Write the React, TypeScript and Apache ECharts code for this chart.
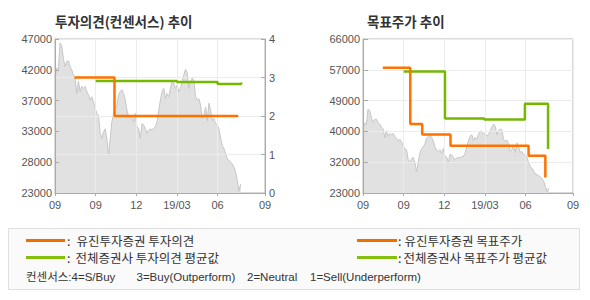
import React, { useEffect, useRef } from "react";
import * as echarts from "echarts";

// x axis in months since the first tick
const xTickMonths = [0, 3, 6, 9, 12, 15.5];
const xTickLabels = ["09", "09", "12", "19/03", "06", "09"];
const leftPriceTicks = [23000, 27800, 32600, 37400, 42200, 47000];
const rightPriceTicks = [23000, 31600, 40200, 48800, 57400, 66000];
const priceStepMonths = 0.1235;

const closePrices = [
  40900, 42500, 42200, 46400, 46000, 44000, 42700, 43500, 43600, 42700,
  42200, 41400, 40900, 38500, 40400, 38800, 39600, 39300, 39600, 38800,
  38300, 37500, 38000, 37200, 36200, 35400, 35100, 32300, 31500, 32500,
  33000, 31500, 28900, 31500, 34100, 35400, 35900, 36700, 38300, 38800,
  39100, 38500, 37500, 35900, 34900, 34600, 35100, 34100, 35400, 33300,
  33000, 31500, 33800, 33600, 33000, 32300, 32800, 33000, 32800, 33100,
  33300, 34100, 35900, 37500, 38800, 39300, 37700, 38500, 38000, 39300,
  40400, 40100, 39300, 39800, 38800, 39300, 40400, 41400, 42300, 41700,
  39300, 40400, 40900, 40600, 38000, 37500, 37700, 36700, 34600, 35100,
  36400, 34300, 37000, 35900, 34300, 34600, 33800, 33600, 33000, 31500,
  30400, 29900, 29100, 28300, 28100, 27800, 27500, 27000, 26200, 24900,
  23300, 24400,
];

// [month, opinion score]
const eugeneOpinion = [
  [1.43, 3],
  [4.39, 2],
  [13.53, 2],
];
const consensusOpinion = [
  [3.0, 2.91],
  [9.0, 2.885],
  [12.0, 2.83],
  [13.75, 2.87],
];
// [month, target price]
const eugeneTarget = [
  [1.46, 58000],
  [3.49, 42300],
  [4.37, 39300],
  [6.46, 36200],
  [12.22, 33400],
  [13.46, 27300],
];
const consensusTarget = [
  [3.0, 56950],
  [6.05, 43800],
  [8.95, 43500],
  [11.95, 47900],
  [13.66, 35300],
];

const ORANGE = "#ff7200";
const GREEN = "#74b800";
const LEG_ORANGE = "#ec6f00";
const LEG_GREEN = "#84bf10";
const KR = '"Noto Sans CJK KR"';

export default function App() {
  const ref = useRef<HTMLDivElement>(null);

  useEffect(() => {
    document.body.style.margin = "0";
    const chart = echarts.init(ref.current!, null, { renderer: "svg" });
    const label = {
      color: "#555",
      fontSize: 11,
      fontFamily: "Liberation Sans",
    };
    const axisLine = { show: true, lineStyle: { color: "#ababab", width: 1 } };
    const gridLine = { show: true, lineStyle: { color: "#ececec", width: 1 } };
    const priceFmt = (v: number) => String(Math.round(v / 1000) * 1000);
    const xFmt = (v: number) => {
      const i = xTickMonths.findIndex((m) => Math.abs(m - v) < 1e-6);
      return i >= 0 ? xTickLabels[i] : "";
    };
    const pricePts = closePrices.map((v, i) => [i * priceStepMonths, v]);

    const xAxisFor = (gridIndex: number) => ({
      type: "value",
      gridIndex,
      min: 0,
      max: 15.5,
      z: 3,
      axisLine,
      axisTick: {
        show: true,
        customValues: xTickMonths,
        length: 3,
        lineStyle: { color: "#ababab" },
      },
      axisLabel: { ...label, customValues: xTickMonths, formatter: xFmt, margin: 6 },
      splitLine: gridLine,
    });

    const legendText = (x: number, y: number, text: string) => ({
      type: "text",
      x,
      y,
      style: { text, fill: "#333", font: `12.5px ${KR}`, verticalAlign: "middle" },
    });

    chart.setOption({
      animation: false,
      grid: [
        { left: 55, top: 39, width: 210, height: 154, show: true, borderColor: "#b4b4b4", borderWidth: 1, backgroundColor: "transparent" },
        { left: 363, top: 39, width: 210, height: 154, show: true, borderColor: "#b4b4b4", borderWidth: 1, backgroundColor: "transparent" },
      ],
      xAxis: [xAxisFor(0), xAxisFor(1)],
      yAxis: [
        {
          type: "value",
          gridIndex: 0,
          position: "left",
          min: 23000,
          max: 47000,
          z: 3,
          axisLine,
          axisTick: { show: true, inside: true, length: 4, customValues: leftPriceTicks, lineStyle: { color: "#ababab" } },
          axisLabel: { ...label, customValues: leftPriceTicks, formatter: priceFmt, margin: 3 },
          splitLine: { show: false },
        },
        {
          type: "value",
          gridIndex: 0,
          position: "right",
          min: 0,
          max: 4,
          interval: 1,
          z: 3,
          axisLine,
          axisTick: { show: true, inside: true, length: 4, lineStyle: { color: "#ababab" } },
          axisLabel: { ...label, margin: 4 },
          splitLine: gridLine,
        },
        {
          type: "value",
          gridIndex: 1,
          position: "left",
          min: 23000,
          max: 66000,
          z: 3,
          axisLine,
          axisTick: { show: true, inside: true, length: 5, customValues: rightPriceTicks, lineStyle: { color: "#ababab" } },
          axisLabel: { ...label, customValues: rightPriceTicks, formatter: priceFmt, margin: 3 },
          splitLine: gridLine,
        },
      ],
      series: [
        {
          type: "line",
          xAxisIndex: 0,
          yAxisIndex: 0,
          data: pricePts,
          symbol: "none",
          z: 1,
          lineStyle: { color: "#c6c6c6", width: 1 },
          areaStyle: { color: "#e1e1e1", opacity: 1 },
        },
        {
          type: "line",
          xAxisIndex: 1,
          yAxisIndex: 2,
          data: pricePts,
          symbol: "none",
          z: 1,
          lineStyle: { color: "#c6c6c6", width: 1 },
          areaStyle: { color: "#e1e1e1", opacity: 1 },
        },
        {
          type: "line",
          xAxisIndex: 0,
          yAxisIndex: 1,
          data: consensusOpinion,
          step: "end",
          symbol: "none",
          z: 5,
          lineStyle: { color: GREEN, width: 2.5 },
        },
        {
          type: "line",
          xAxisIndex: 0,
          yAxisIndex: 1,
          data: eugeneOpinion,
          step: "end",
          symbol: "none",
          z: 6,
          lineStyle: { color: ORANGE, width: 2.5 },
        },
        {
          type: "line",
          xAxisIndex: 1,
          yAxisIndex: 2,
          data: consensusTarget,
          step: "end",
          symbol: "none",
          z: 5,
          lineStyle: { color: GREEN, width: 2.5 },
        },
        {
          type: "line",
          xAxisIndex: 1,
          yAxisIndex: 2,
          data: eugeneTarget,
          step: "end",
          symbol: "none",
          z: 6,
          lineStyle: { color: ORANGE, width: 2.5 },
        },
      ],
      graphic: [
        { type: "text", x: 55, y: 21, style: { text: "투자의견(컨센서스) 추이", fill: "#333", font: `bold 13.5px ${KR}`, verticalAlign: "middle" } },
        { type: "text", x: 367, y: 21, style: { text: "목표주가 추이", fill: "#333", font: `bold 13.5px ${KR}`, verticalAlign: "middle" } },
        { type: "rect", shape: { x: 8.5, y: 228.5, width: 571, height: 61 }, style: { fill: "#fafafa", stroke: "#dedede", lineWidth: 1 } },
        { type: "line", shape: { x1: 26, y1: 240.5, x2: 65, y2: 240.5 }, style: { stroke: LEG_ORANGE, lineWidth: 3 } },
        { type: "line", shape: { x1: 26, y1: 257.5, x2: 65, y2: 257.5 }, style: { stroke: LEG_GREEN, lineWidth: 3 } },
        { type: "line", shape: { x1: 357, y1: 240.5, x2: 397, y2: 240.5 }, style: { stroke: LEG_ORANGE, lineWidth: 3 } },
        { type: "line", shape: { x1: 357, y1: 257.5, x2: 397, y2: 257.5 }, style: { stroke: LEG_GREEN, lineWidth: 3 } },
        legendText(67, 240, ":"),
        legendText(76.5, 240, "유진투자증권 투자의견"),
        legendText(67, 257.5, ":"),
        legendText(75.5, 257.5, "전체증권사 투자의견 평균값"),
        legendText(398, 240, ":"),
        legendText(404.5, 240, "유진투자증권 목표주가"),
        legendText(398, 257.5, ":"),
        legendText(403.5, 257.5, "전체증권사 목표주가 평균값"),
        { type: "text", x: 26, y: 276.5, style: { text: "컨센서스:4=S/Buy", fill: "#333", font: `11.5px "Liberation Sans", ${KR}`, verticalAlign: "middle" } },
        { type: "text", x: 136.5, y: 276.5, style: { text: "3=Buy(Outperform)", fill: "#333", font: `11.5px "Liberation Sans"`, verticalAlign: "middle" } },
        { type: "text", x: 247, y: 276.5, style: { text: "2=Neutral", fill: "#333", font: `11.5px "Liberation Sans"`, verticalAlign: "middle" } },
        { type: "text", x: 310, y: 276.5, style: { text: "1=Sell(Underperform)", fill: "#333", font: `11.5px "Liberation Sans"`, verticalAlign: "middle" } },
      ],
    });
    return () => chart.dispose();
  }, []);

  return <div ref={ref} style={{ width: 590, height: 300 }} />;
}
